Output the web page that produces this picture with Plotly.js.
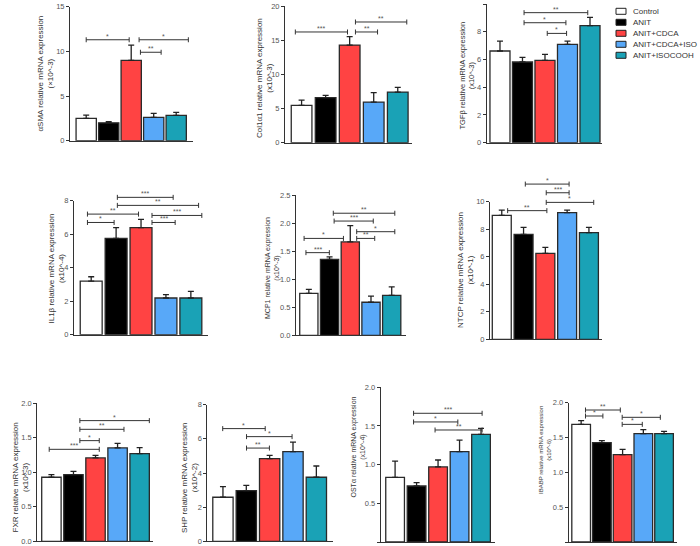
<!DOCTYPE html>
<html><head><meta charset="utf-8">
<script src="https://cdn.plot.ly/plotly-3.0.1.min.js"></script>
<style>html,body{margin:0;padding:0;background:#fff}#chart{width:700px;height:546px}</style>
</head><body><div id="chart"></div>
<script>
// ---- data ----
const groups = ['Control', 'ANIT', 'ANIT+CDCA', 'ANIT+CDCA+ISO', 'ANIT+ISOCOOH'];
const groupColors = ['#FFFFFF', '#000000', '#FF4343', '#58A8F8', '#1AA2B6'];

const aSMA = [2.5, 2.0, 9.0, 2.62, 2.84];
const aSMA_err = [0.37, 0.12, 1.7, 0.44, 0.33];
const col1a1 = [5.46, 6.59, 14.29, 5.95, 7.41];
const col1a1_err = [0.78, 0.34, 1.22, 1.37, 0.69];
const tgfb = [6.61, 5.82, 5.94, 7.09, 8.44];
const tgfb_err = [0.72, 0.33, 0.43, 0.24, 0.6];
const il1b = [3.2, 5.75, 6.39, 2.19, 2.19];
const il1b_err = [0.26, 0.64, 0.5, 0.2, 0.4];
const mcp1 = [0.75, 1.357, 1.667, 0.59, 0.714];
const mcp1_err = [0.07, 0.045, 0.29, 0.11, 0.15];
const ntcp = [9.0, 7.63, 6.25, 9.2, 7.75];
const ntcp_err = [0.39, 0.5, 0.43, 0.19, 0.38];
const fxr = [0.928, 0.966, 1.208, 1.353, 1.27];
const fxr_err = [0.038, 0.048, 0.038, 0.067, 0.087];
const shp = [2.58, 2.97, 4.84, 5.25, 3.75];
const shp_err = [0.62, 0.31, 0.19, 0.56, 0.66];
const osta = [0.836, 0.724, 0.97, 1.168, 1.392];
const osta_err = [0.21, 0.043, 0.09, 0.15, 0.078];
const ibabp = [1.689, 1.426, 1.254, 1.555, 1.555];
const ibabp_err = [0.053, 0.029, 0.076, 0.057, 0.034];

// significance brackets: [from group, to group, height, label]
const aSMA_sig = [[0, 1.91, 11.3, '*'], [2.41, 3.33, 9.9, '**'], [2.35, 4.54, 11.3, '*']];
const col1a1_sig = [[-0.26, 1.91, 16.2, '***'], [2.24, 3.16, 16.2, '**'], [2.24, 4.375, 17.66, '**']];
const tgfb_sig = [[1.07, 3.9, 9.375, '**'], [1.07, 2.93, 8.65, '*'], [2.1, 2.96, 7.88, '*']];
const il1b_sig = [[1.05, 3.29, 8.2, '***'], [1.05, 4.31, 7.72, '**'], [-0.15, 1.9, 7.2, '**'], [2.44, 4.44, 7.12, '***'], [-0.15, 0.92, 6.7, '*'], [2.44, 3.37, 6.7, '***']];
const mcp1_sig = [[1.18, 4.15, 2.18, '**'], [1.22, 3.11, 2.04, '***'], [2.31, 4.15, 1.85, '*'], [2.31, 3.18, 1.73, '**'], [-0.23, 1.67, 1.73, '*'], [-0.14, 0.99, 1.476, '***']];
const ntcp_sig = [[1.08, 3.09, 11.28, '*'], [2.04, 3.09, 10.65, '***'], [2.04, 4.22, 9.95, '*'], [0.27, 2.07, 9.35, '**']];
const fxr_sig = [[1.29, 4.44, 1.749, '*'], [1.29, 3.29, 1.623, '**'], [1.29, 2.17, 1.459, '*'], [-0.1, 2.17, 1.333, '***']];
const shp_sig = [[-0.01, 1.81, 6.6, '*'], [1.01, 2.96, 6.13, '*'], [1.01, 1.99, 5.46, '**']];
const osta_sig = [[0.86, 4.05, 1.664, '***'], [0.86, 2.92, 1.552, '*'], [1.86, 4.05, 1.448, '**']];
const ibabp_sig = [[0.21, 1.89, 1.895, '**'], [0.21, 1.05, 1.809, '*'], [1.98, 3.82, 1.79, '*'], [1.98, 2.95, 1.689, '*']];

const tick15 = [0, 5, 10, 15];
const tick20 = [0, 5, 10, 15, 20];
const tick10 = [0, 2, 4, 6, 8, 10];
const tick8 = [0, 2, 4, 6, 8];
const tick25 = [0, 0.5, 1.0, 1.5, 2.0, 2.5];
const tick2 = [0, 0.5, 1.0, 1.5, 2.0];

// ---- layout of panels (pixels) ----
const W = 700, H = 546;
const panels = [
  {v: aSMA, e: aSMA_err, s: aSMA_sig, t: tick15, f: 'd', title: 'αSMA relative mRNA expression<br>(×10^-3)', px: [70, 193.3], xr: [-0.72, 4.76], py: [140.7, 6.7], bw: 0.9, tp: [45.5, 74], ts: 8},
  {v: col1a1, e: col1a1_err, s: col1a1_sig, t: tick20, f: 'd', title: 'Col1α1 relative mRNA expression<br>(x10^-3)', px: [285, 411.7], xr: [-0.69, 4.58], py: [142.7, 6], bw: 0.86, tp: [265, 78], ts: 8},
  {v: tgfb, e: tgfb_err, s: tgfb_sig, t: tick10, f: 'd', title: 'TGFβ relative mRNA expression<br>(x10^-3)', px: [486.7, 601.7], xr: [-0.59, 4.52], py: [142.7, 4], bw: 0.89, tp: [467.5, 75], ts: 7.5},
  {v: il1b, e: il1b_err, s: il1b_sig, t: tick8, f: 'd', title: 'IL1β relative mRNA expression<br>(x10^-4)', px: [74, 208.3], xr: [-0.69, 4.7], py: [334.7, 200.7], bw: 0.88, tp: [55.5, 268], ts: 8},
  {v: mcp1, e: mcp1_err, s: mcp1_sig, t: tick25, f: '.1f', title: 'MCP1 relative mRNA expression<br>(x10^-3)', px: [296, 406], xr: [-0.62, 4.69], py: [335.3, 195.3], bw: 0.88, tp: [272, 268], ts: 7},
  {v: ntcp, e: ntcp_err, s: ntcp_sig, t: tick10, f: 'd', title: 'NTCP relative mRNA expression<br>(x10^-1)', px: [490, 602], xr: [-0.54, 4.6], py: [339.3, 201.7], bw: 0.87, tp: [465, 270], ts: 8},
  {v: fxr, e: fxr_err, s: fxr_sig, t: tick2, f: '.1f', title: 'FXR relative mRNA expression<br>(x10^-3)', px: [37.3, 153.3], xr: [-0.64, 4.62], py: [541.3, 403.3], bw: 0.88, tp: [19.5, 478], ts: 8},
  {v: shp, e: shp_err, s: shp_sig, t: tick8, f: 'd', title: 'SHP relative mRNA expression<br>(x10^-2)', px: [207.3, 332.7], xr: [-0.67, 4.7], py: [541.3, 404.7], bw: 0.87, tp: [189, 478], ts: 8},
  {v: osta, e: osta_err, s: osta_sig, t: tick2, f: '.1f', title: 'OSTα relative mRNA expression<br>(x10^-4)', px: [380.7, 495], xr: [-0.67, 4.65], py: [542, 387.3], bw: 0.87, tp: [357.5, 447], ts: 7},
  {v: ibabp, e: ibabp_err, s: ibabp_sig, t: tick2, f: '.1f', title: 'IBABP relative mRNA expression<br>(x10^-6)', px: [568.7, 676.7], xr: [-0.6, 4.61], py: [542, 402.7], bw: 0.9, tp: [545, 450], ts: 6}
];

const traces = [];
const layout = {
  width: W, height: H, margin: {l: 0, r: 0, t: 0, b: 0},
  paper_bgcolor: '#fff', plot_bgcolor: 'rgba(0,0,0,0)', showlegend: false,
  font: {family: 'Liberation Sans, Arial, sans-serif', color: '#333'},
  shapes: [], annotations: []
};

panels.forEach((p, i) => {
  const n = i === 0 ? '' : String(i + 1);
  const xa = 'x' + n, ya = 'y' + n;
  const ymax = p.t[p.t.length - 1];
  layout['xaxis' + n] = {
    domain: [p.px[0] / W, p.px[1] / W], range: p.xr, anchor: ya,
    showline: true, linecolor: '#333', linewidth: 1, showticklabels: false,
    ticks: '', showgrid: false, zeroline: false, fixedrange: true
  };
  layout['yaxis' + n] = {
    domain: [1 - p.py[0] / H, 1 - p.py[1] / H], range: [0, ymax], anchor: xa,
    showline: true, linecolor: '#333', linewidth: 1, ticks: 'outside', ticklen: 3,
    tickwidth: 1, tickcolor: '#333', tickvals: p.t, tickformat: p.f,
    tickfont: {size: 7.5, color: '#555'}, showgrid: false, zeroline: false, fixedrange: true
  };
  traces.push({
    type: 'bar', x: groups.map((g, k) => k), y: p.v, xaxis: xa, yaxis: ya, width: p.bw,
    marker: {color: groupColors, line: {color: '#2a2a2a', width: 1.3}},
    error_y: {type: 'data', symmetric: false, array: p.e, arrayminus: p.e.map(() => 0),
      color: '#222', thickness: 1.3, width: 3},
    hoverinfo: 'skip', showlegend: false
  });
  const toPaper = v => 1 - (p.py[0] - (p.py[0] - p.py[1]) * v / ymax) / H;
  const cap = 2.5 / H;
  p.s.forEach(b => {
    const yp = toPaper(b[2]);
    layout.shapes.push({
      type: 'path', xref: xa, yref: 'paper',
      path: `M${b[0]},${yp - cap} L${b[0]},${yp + cap} M${b[0]},${yp} L${b[1]},${yp} M${b[1]},${yp - cap} L${b[1]},${yp + cap}`,
      line: {color: '#333', width: 1}
    });
    layout.annotations.push({
      xref: xa, yref: 'paper', x: (b[0] + b[1]) / 2, y: yp, text: b[3],
      showarrow: false, xanchor: 'center', yanchor: 'bottom', yshift: -2,
      font: {size: 7, color: '#555'}
    });
  });
  layout.annotations.push({
    xref: 'paper', yref: 'paper', x: p.tp[0] / W, y: 1 - p.tp[1] / H, text: p.title,
    textangle: -90, showarrow: false, xanchor: 'center', yanchor: 'middle',
    font: {size: p.ts, color: '#333'}
  });
});

// legend
groups.forEach((g, k) => {
  const yc = 11.3 + k * 11;
  layout.shapes.push({
    type: 'rect', xref: 'paper', yref: 'paper',
    x0: 616 / W, x1: 626 / W, y0: 1 - (yc - 3) / H, y1: 1 - (yc + 3) / H,
    fillcolor: groupColors[k], line: {color: '#222', width: 1}
  });
  layout.annotations.push({
    xref: 'paper', yref: 'paper', x: 630.5 / W, y: 1 - yc / H, text: g,
    showarrow: false, xanchor: 'left', yanchor: 'middle', font: {size: 8, color: '#333'}
  });
});

Plotly.newPlot('chart', traces, layout, {displayModeBar: false, staticPlot: true});
</script>
</body></html>
